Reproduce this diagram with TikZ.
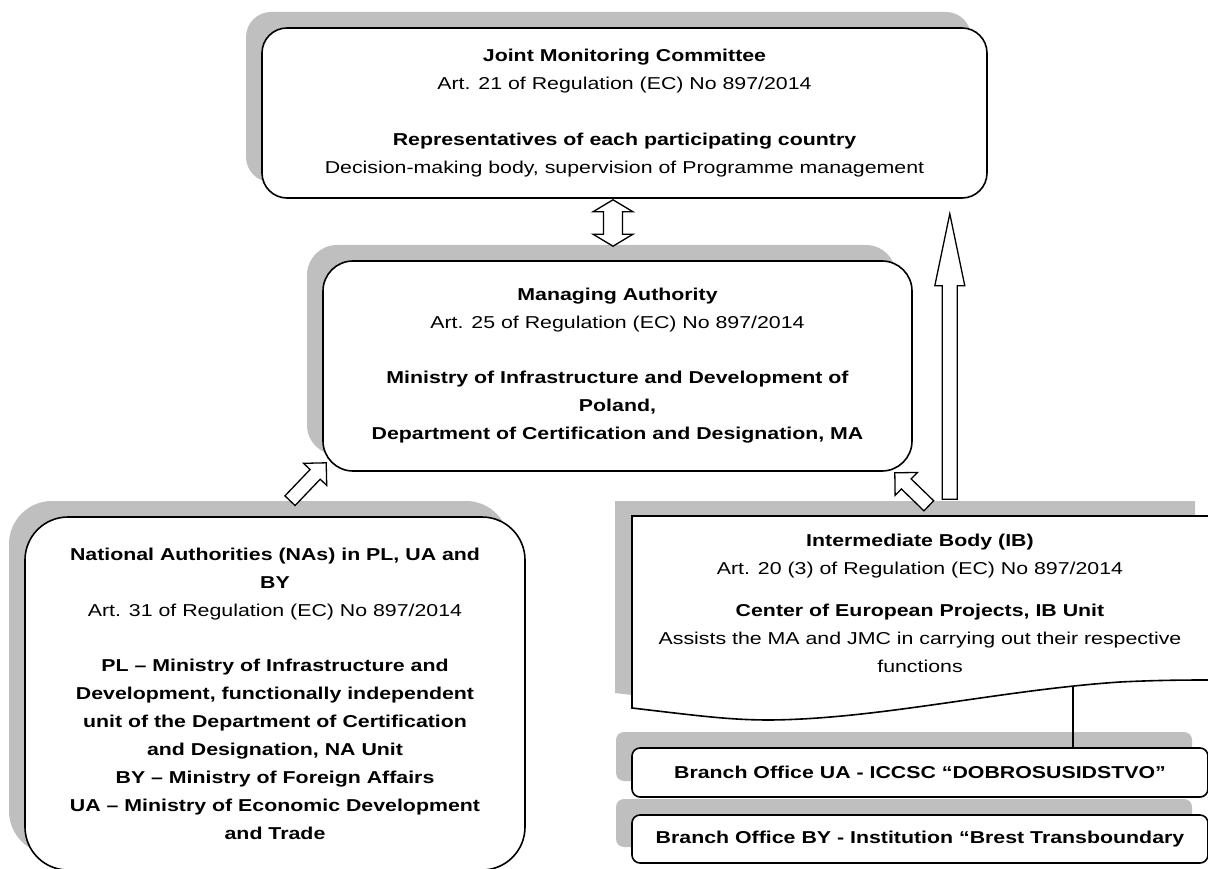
\documentclass[tikz,border=0pt]{standalone}
\usepackage{fontspec}
\setmainfont{Liberation Sans}[FakeStretch=1.24]
\usetikzlibrary{calc,shadows}

\tikzset{
  box/.style={draw, line width=1.6pt, fill=white, align=center, inner sep=0pt,
    drop shadow={shadow xshift=-16pt, shadow yshift=16pt, fill=black!25, opacity=1}},
  blockarrow/.style={draw, fill=white, line width=1.3pt, line join=miter},
  link/.style={line width=1.3pt},
}

% hollow arrow: tail, tip, shaft half width, head half width, head length
\newcommand{\hollowarrow}[5]{%
  \coordinate (hb) at ($(#2)!#5!(#1)$);
  \draw[blockarrow] ($(#1)!#3!90:(#2)$) -- ($(hb)!#3!-90:(#1)$) -- ($(hb)!#4!-90:(#1)$) -- (#2)
    -- ($(hb)!#4!90:(#1)$) -- ($(hb)!#3!90:(#1)$) -- ($(#1)!#3!-90:(#2)$) -- cycle;
}
% same with a head at both ends
\newcommand{\hollowdarrow}[5]{%
  \coordinate (ha) at ($(#1)!#5!(#2)$);
  \coordinate (hb) at ($(#2)!#5!(#1)$);
  \draw[blockarrow] (#1) -- ($(ha)!#4!90:(#2)$) -- ($(ha)!#3!90:(#2)$) -- ($(hb)!#3!-90:(#1)$)
    -- ($(hb)!#4!-90:(#1)$) -- (#2) -- ($(hb)!#4!90:(#1)$) -- ($(hb)!#3!90:(#1)$)
    -- ($(ha)!#3!-90:(#2)$) -- ($(ha)!#4!-90:(#2)$) -- cycle;
}

\def\ibpath{(632,516) -- (1212,516) -- (1212,680)
  .. controls (1190,680) and (1160,680) .. (1120,682)
  .. controls (1000,690) and (880,719) .. (770,720)
  .. controls (730,720) and (700,716) .. (632,708) -- cycle}

\begin{document}
\begin{tikzpicture}[x=1pt, y=-1pt, font=\fontsize{17.2}{28}\selectfont]
  \useasboundingbox (0,0) rectangle (1208,869);

  % committee
  \node[box, rounded corners=25pt, minimum width=725pt, minimum height=170pt] (jmc) at (624.5,113)
    {\textbf{Joint Monitoring Committee}\\
     Art. 21 of Regulation (EC) No 897/2014\\[28pt]
     \textbf{Representatives of each participating country}\\
     Decision-making body, supervision of Programme management};

  % managing authority
  \node[box, rounded corners=30pt, minimum width=589pt, minimum height=210pt] (ma) at (617.5,366)
    {\textbf{Managing Authority}\\
     Art. 25 of Regulation (EC) No 897/2014\\[27pt]
     \textbf{Ministry of Infrastructure and Development of}\\
     \textbf{Poland,}\\
     \textbf{Department of Certification and Designation, MA}};

  % national authorities
  \node[box, rounded corners=43pt, minimum width=500pt, minimum height=353pt] (na) at (275,693.5)
    {\textbf{National Authorities (NAs) in PL, UA and}\\
     \textbf{BY}\\
     Art. 31 of Regulation (EC) No 897/2014\\[27pt]
     \textbf{PL – Ministry of Infrastructure and}\\
     \textbf{Development, functionally independent}\\
     \textbf{unit of the Department of Certification}\\
     \textbf{and Designation, NA Unit}\\
     \textbf{BY – Ministry of Foreign Affairs}\\
     \textbf{UA – Ministry of Economic Development}\\
     \textbf{and Trade}};

  % intermediate body
  \fill[black!25, shift={(-17,-15)}] \ibpath;
  \draw[line width=1.6pt, fill=white] \ibpath;
  \node[align=center] (ib) at (920,603)
    {\textbf{Intermediate Body (IB)}\\
     Art. 20 (3) of Regulation (EC) No 897/2014\\[14pt]
     \textbf{Center of European Projects, IB Unit}\\
     Assists the MA and JMC in carrying out their respective\\
     functions};

  % branch offices
  \node[box, rounded corners=8pt, minimum width=576pt, minimum height=49pt] (ua) at (920,772.5)
    {\textbf{Branch Office UA - ICCSC “DOBROSUSIDSTVO”}};
  \node[box, rounded corners=8pt, minimum width=576pt, minimum height=48pt] (by) at (920,839)
    {\textbf{Branch Office BY - Institution “Brest Transboundary}};

  \coordinate (ibw) at (1073,686);
  \draw[link] (ibw) -- (ibw |- ua.north);

  % arrows
  \coordinate (dA) at ($(jmc.south)+(-11.5,1)$);
  \coordinate (dB) at ($(ma.north)+(-4.5,-14)$);
  \hollowdarrow{dA}{dB}{9.5pt}{20pt}{12pt}

  \coordinate (uT) at ($(ma.north east)+(37,239)$);
  \coordinate (uH) at ($(jmc.south east)+(-38,15)$);
  \hollowarrow{uT}{uH}{7.5pt}{15pt}{72pt}

  \coordinate (lT) at ($(na.north)+(15,-15.5)$);
  \coordinate (lH) at ($(ma.south west)+(4,-9)$);
  \hollowarrow{lT}{lH}{7pt}{16pt}{16pt}

  \coordinate (rT) at ($(ma.south east)+(16,34)$);
  \coordinate (rH) at ($(ma.south east)+(-18,1)$);
  \hollowarrow{rT}{rH}{7pt}{16pt}{16pt}
\end{tikzpicture}
\end{document}
